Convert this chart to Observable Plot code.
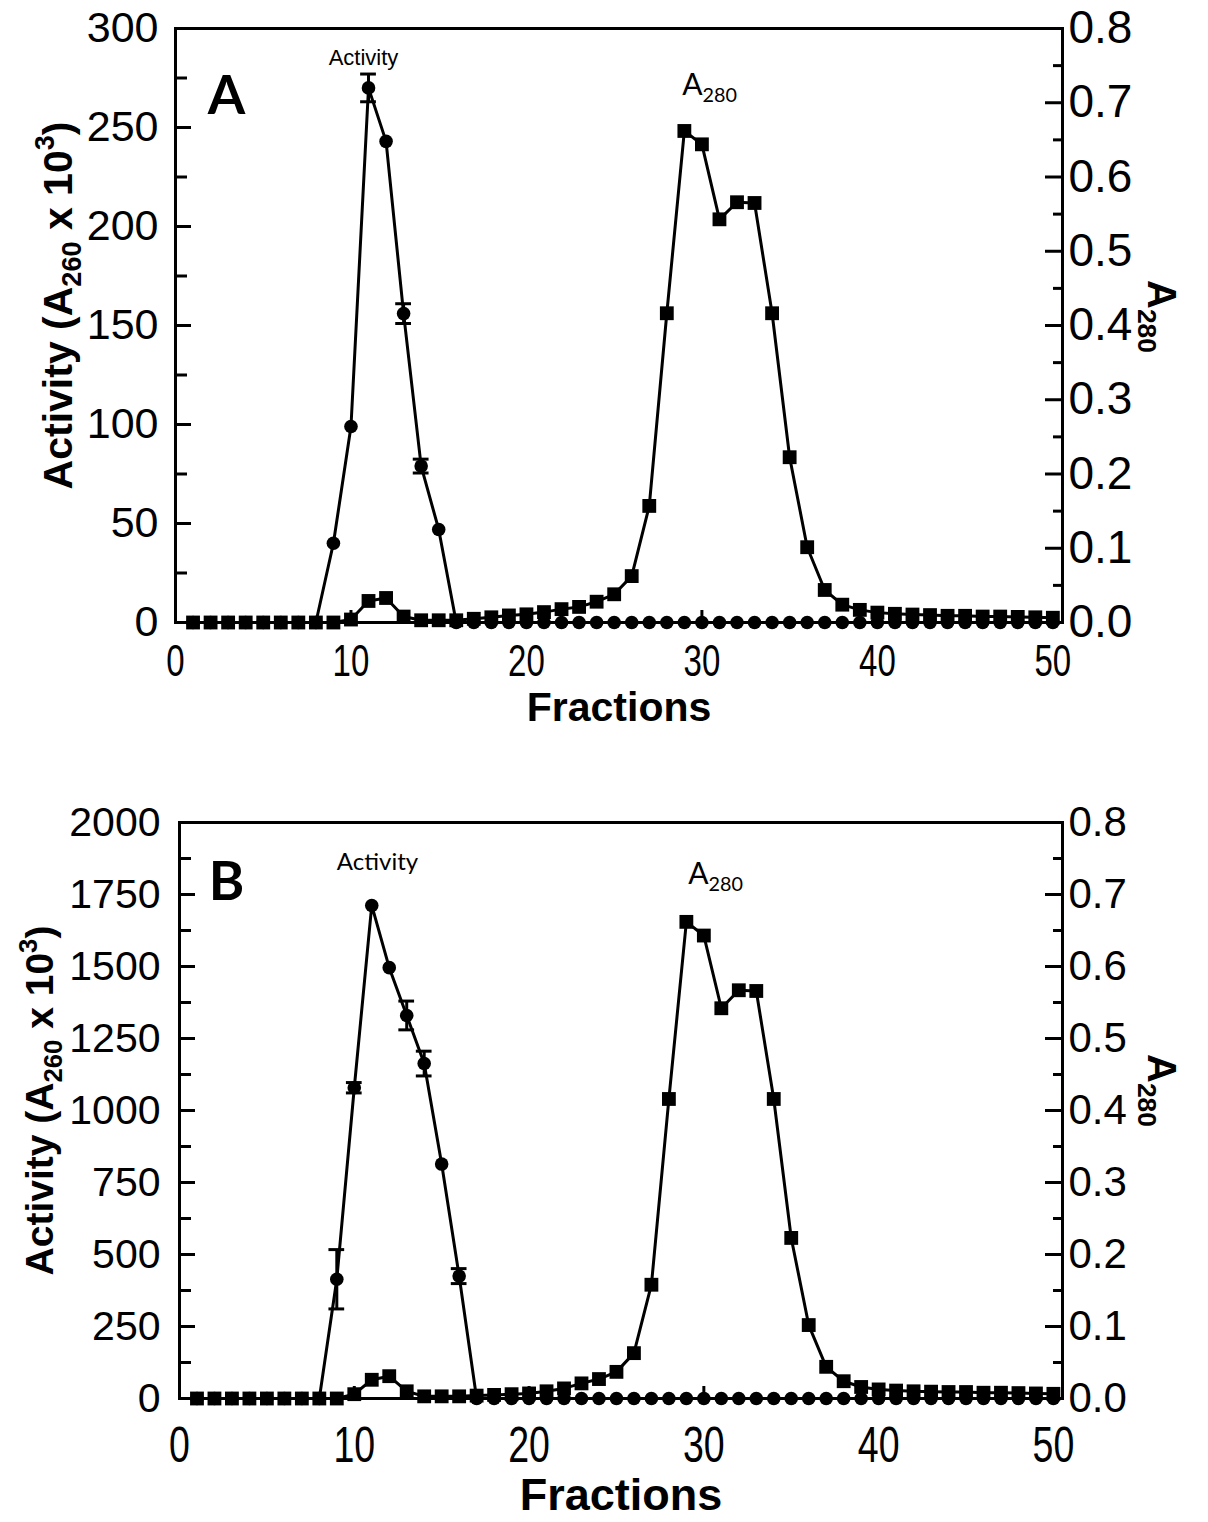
<!DOCTYPE html>
<html><head><meta charset="utf-8">
<script src="https://cdn.jsdelivr.net/npm/d3@7"></script>
<script src="https://cdn.jsdelivr.net/npm/@observablehq/plot@0.6"></script>
<style>
body{margin:0;background:#fff;}
#wrap{position:relative;width:1208px;height:1522px;overflow:hidden;}
.panel{position:relative;width:1208px;}
.panel svg{position:absolute;left:0;top:0;}
</style></head><body><div id="wrap"></div>
<script>
const fractions = [1,2,3,4,5,6,7,8,9,10,11,12,13,14,15,16,17,18,19,20,21,22,23,24,25,26,27,28,29,30,31,32,33,34,35,36,37,38,39,40,41,42,43,44,45,46,47,48,49,50];

const activityA = [0,0,0,0,0,0,0,0,40,99,270,243,156,79,47,0,0,0,0,0,0,0,0,0,0,0,0,0,0,0,0,0,0,0,0,0,0,0,0,0,0,0,0,0,0,0,0,0,0,0];
const a280A = [0,0,0,0,0,0,0,0,0,0.004,
  0.029,0.033,0.008,0.003,0.003,0.003,0.005,0.007,0.0095,0.011,
  0.014,0.018,0.021,0.028,0.038,0.0625,0.157,0.4165,0.662,0.644,
  0.543,0.566,0.565,0.4165,0.2226,0.1014,0.0438,0.024,0.017,0.0133,
  0.0117,0.0107,0.010,0.009,0.009,0.008,0.008,0.0075,0.007,0.0064];
const errFracA = [11,13,14];
const errA = [7,5,3.5];

const activityB = [0,0,0,0,0,0,0,0,414,1079,1712,1496,1330,1163,814,425,0,0,0,0,0,0,0,0,0,0,0,0,0,0,0,0,0,0,0,0,0,0,0,0,0,0,0,0,0,0,0,0,0,0];
const a280B = [0,0,0,0,0,0,0,0,0,0.006,
  0.026,0.031,0.010,0.003,0.003,0.003,0.004,0.005,0.006,0.007,
  0.010,0.014,0.021,0.027,0.037,0.063,0.158,0.416,0.662,0.643,
  0.542,0.567,0.566,0.416,0.223,0.102,0.044,0.024,0.016,0.0126,
  0.011,0.010,0.0095,0.009,0.009,0.008,0.008,0.0075,0.007,0.0065];
const errFracB = [9,10,13,14,16];
const errB = [103,18,50,43,26];

const xTicks = [0,10,20,30,40,50];
const xInnerTicks = [10,20,30,40];
const yTicksA = [0,50,100,150,200,250,300];
const yMinorA = [25,75,125,175,225,275];
const yTicksB = [0,250,500,750,1000,1250,1500,1750,2000];
const yMinorB = [125,375,625,875,1125,1375,1625,1875];
const a280Ticks = [0,0.1,0.2,0.3,0.4,0.5,0.6,0.7,0.8];
const a280Minor = [0.05,0.15,0.25,0.35,0.45,0.55,0.65,0.75];

const leftTitle = "Activity (A_{260} x 10^{3})";
const rightTitle = "A_{280}";
const xTitle = "Fractions";
const annotActivity = "Activity";

const SANS = "'Liberation Sans', Arial, sans-serif";
const CAL = "Lato, 'Noto Sans', sans-serif";

// turn _{..} and ^{..} into real subscript / superscript tspans
function richify(svg) {
  svg.querySelectorAll("text").forEach(t => {
    const s = t.textContent;
    if (!/[_^]\{/.test(s)) return;
    const fs = parseFloat(getComputedStyle(t).fontSize) || 30;
    const parts = s.split(/(_\{[^}]*\}|\^\{[^}]*\})/).filter(p => p.length);
    while (t.firstChild) t.removeChild(t.firstChild);
    let cur = 0;
    parts.forEach(p => {
      const ts = document.createElementNS("http://www.w3.org/2000/svg", "tspan");
      let target = 0, txt = p;
      if (p.startsWith("_{")) { target = 0.24 * fs; txt = p.slice(2, -1); ts.setAttribute("font-size", (0.66 * fs) + "px"); }
      else if (p.startsWith("^{")) { target = -0.42 * fs; txt = p.slice(2, -1); ts.setAttribute("font-size", (0.66 * fs) + "px"); }
      if (target !== cur) ts.setAttribute("dy", (target - cur).toFixed(2));
      cur = target;
      ts.textContent = txt;
      t.appendChild(ts);
    });
  });
}
function narrowX(svg, k) {
  svg.querySelectorAll('g[aria-label="x-axis tick label"] text').forEach(t => {
    t.setAttribute("transform", (t.getAttribute("transform") || "") + ` scale(${k},1)`);
  });
}

function makePanel(cfg) {
  const rows = fractions.map((f, i) => ({f, act: cfg.act[i], a280: cfg.a280[i]}));
  const errs = cfg.errF.map((f, i) => ({f, v: cfg.act[fractions.indexOf(f)], e: cfg.errV[i]}));
  const common = {width: 1208, height: cfg.height, marginLeft: cfg.mL, marginRight: 146, marginTop: cfg.mT, marginBottom: cfg.mB};
  const style = {fontFamily: SANS, color: "black", background: "transparent", overflow: "visible"};
  const mid = {textAnchor: "middle", lineAnchor: "middle"};
  const p1 = Plot.plot({
    ...common, style,
    x: {domain: [0, cfg.xMax]},
    y: {domain: [0, cfg.yMax]},
    marks: [
      Plot.axisY(cfg.yTicks, {anchor: "left", tickSize: 0, tickPadding: cfg.yPad, fontSize: cfg.yFont, tickFormat: d => String(d), label: null}),
      Plot.axisY(cfg.yTicks, {anchor: "left", tickSize: -16, fill: "none", strokeWidth: 3, label: null}),
      Plot.axisY(cfg.yMinor, {anchor: "left", tickSize: -12, fill: "none", strokeWidth: 3, label: null}),
      Plot.axisX(xTicks, {anchor: "bottom", tickSize: 0, tickPadding: cfg.xPad, fontSize: cfg.xFont, label: null}),
      Plot.axisX(xInnerTicks, {anchor: "bottom", tickSize: -12, fill: "none", strokeWidth: 3, label: null}),
      Plot.frame({stroke: "black", strokeWidth: 3}),
      Plot.line(rows, {x: "f", y: "act", stroke: "black", strokeWidth: 3}),
      Plot.ruleX(errs, {x: "f", y1: d => d.v - d.e, y2: d => d.v + d.e, stroke: "black", strokeWidth: 3}),
      Plot.ruleY(errs, {y: d => d.v + d.e, x1: d => d.f - 0.45, x2: d => d.f + 0.45, stroke: "black", strokeWidth: 3}),
      Plot.ruleY(errs, {y: d => d.v - d.e, x1: d => d.f - 0.45, x2: d => d.f + 0.45, stroke: "black", strokeWidth: 3}),
      Plot.dot(rows, {x: "f", y: "act", r: 6.8, fill: "black", stroke: "none"}),
      Plot.text([leftTitle], {...mid, frameAnchor: "left", rotate: -90, dx: cfg.ltDx, dy: cfg.ltDy, fontWeight: "bold", fontSize: cfg.ltFont}),
      Plot.text([xTitle], {...mid, frameAnchor: "bottom", dy: cfg.fDy, fontWeight: "bold", fontSize: cfg.fFont}),
      Plot.text([cfg.letter], {...mid, frameAnchor: "top-left", dx: cfg.letterDx, dy: cfg.letterDy, fontWeight: "bold", fontSize: 54, fontFamily: CAL}),
      Plot.text([annotActivity], {...mid, frameAnchor: "top-left", dx: cfg.actDx, dy: cfg.actDy, fontSize: cfg.actFont, fontFamily: cfg.actFamily})
    ]
  });
  const p2 = Plot.plot({
    ...common, style,
    x: {domain: [0, cfg.xMax], axis: null},
    y: {domain: [0, 0.8]},
    marks: [
      Plot.axisY(a280Ticks, {anchor: "right", tickSize: 0, tickPadding: cfg.rPad, fontSize: cfg.rFont, tickFormat: d3.format(".1f"), label: null}),
      Plot.axisY(a280Ticks, {anchor: "right", tickSize: -18, fill: "none", strokeWidth: 3, label: null}),
      Plot.axisY(a280Minor, {anchor: "right", tickSize: -10, fill: "none", strokeWidth: 3, label: null}),
      Plot.line(rows, {x: "f", y: "a280", stroke: "black", strokeWidth: 3}),
      Plot.dot(rows, {x: "f", y: "a280", symbol: "square", r: 7.8, fill: "black", stroke: "none"}),
      Plot.text([rightTitle], {...mid, frameAnchor: "right", rotate: 90, dx: cfg.rtDx, dy: cfg.rtDy, fontWeight: "bold", fontSize: cfg.rtFont}),
      Plot.text([rightTitle], {...mid, frameAnchor: "top-left", dx: cfg.a280Dx, dy: cfg.a280Dy, fontSize: 30, fontFamily: CAL})
    ]
  });
  const div = document.createElement("div");
  div.className = "panel";
  div.style.height = cfg.height + "px";
  div.appendChild(p1);
  div.appendChild(p2);
  document.getElementById("wrap").appendChild(div);
  richify(p1); richify(p2);
  narrowX(p1, 0.75);
}

makePanel({
  act: activityA, a280: a280A, errF: errFracA, errV: errA,
  height: 760, mL: 175, mT: 28, mB: 138, xMax: 50.55, yMax: 300,
  yTicks: yTicksA, yMinor: yMinorA, yPad: 17, yFont: 43, xPad: 22, xFont: 44,
  rPad: 6, rFont: 46, ltDx: -117, ltDy: -20, ltFont: 41, fDy: 85, fFont: 41,
  letter: "A", letterDx: 51, letterDy: 68, actDx: 188, actDy: 29, actFont: 22, actFamily: SANS,
  a280Dx: 534, a280Dy: 57, rtDx: 98, rtDy: -9, rtFont: 40
});
makePanel({
  act: activityB, a280: a280B, errF: errFracB, errV: errB,
  height: 762, mL: 179, mT: 62, mB: 124, xMax: 50.52, yMax: 2000,
  yTicks: yTicksB, yMinor: yMinorB, yPad: 19, yFont: 41, xPad: 28, xFont: 50,
  rPad: 6, rFont: 42, ltDx: -139, ltDy: -10, ltFont: 39, fDy: 97, fFont: 45,
  letter: "B", letterDx: 47, letterDy: 60, actDx: 198, actDy: 40, actFont: 24, actFamily: CAL,
  a280Dx: 536, a280Dy: 52, rtDx: 98, rtDy: -20, rtFont: 40
});
</script></body></html>
